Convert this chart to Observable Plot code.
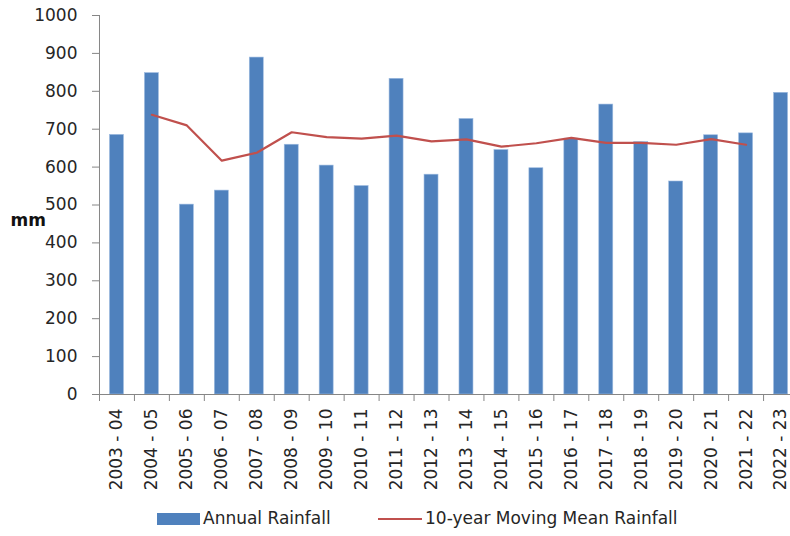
<!DOCTYPE html>
<html>
<head>
<meta charset="utf-8">
<script src="https://cdn.jsdelivr.net/npm/d3@7"></script>
<script src="https://cdn.jsdelivr.net/npm/@observablehq/plot@0.6"></script>
<style>
  body { margin: 0; background: #fff; font-family: "DejaVu Sans", sans-serif; }
  #legend { position: relative; width: 790px; height: 36px; font-size: 17px; color: #262626; }
  #legend .sw { position: absolute; }
  #legend .lb { position: absolute; top: 8px; line-height: 20px; white-space: nowrap; }
</style>
</head>
<body>
<div id="chart"></div>
<div id="legend"></div>
<script>
const seasons = ["2003 - 04","2004 - 05","2005 - 06","2006 - 07","2007 - 08","2008 - 09","2009 - 10","2010 - 11","2011 - 12","2012 - 13","2013 - 14","2014 - 15","2015 - 16","2016 - 17","2017 - 18","2018 - 19","2019 - 20","2020 - 21","2021 - 22","2022 - 23"];
const annualRainfall = [685, 848, 501, 538, 889, 659, 604, 550, 833, 580, 727, 645, 597, 675, 765, 666, 562, 684, 689, 796];
const movingMeanRainfall = [null, 738, 710, 617, 638, 692, 679, 675, 683, 668, 673, 654, 663, 677, 664, 664, 659, 674, 659, null];
const yTicks = [0, 100, 200, 300, 400, 500, 600, 700, 800, 900, 1000];
const seriesNames = ["Annual Rainfall", "10-year Moving Mean Rainfall"];
const axisLabel = "mm";

const barColor = "#4F81BD";
const lineColor = "#C0504D";
const axisColor = "#868686";
const textColor = "#262626";

const bars = seasons.map((s, i) => ({season: s, value: annualRainfall[i]}));
const means = seasons.map((s, i) => ({season: s, value: movingMeanRainfall[i]})).filter(d => d.value != null);

const step = 34.95;
const halfStep = step / 2;

const chart = Plot.plot({
  width: 790,
  height: 500,
  marginTop: 15,
  marginBottom: 106,
  marginLeft: 99,
  marginRight: 0,
  style: {fontFamily: "'DejaVu Sans', sans-serif", fontSize: "17px", color: textColor, background: "#fff"},
  x: {domain: seasons, range: [88.5, 808.5], padding: 0.6, align: 0.5, round: false},
  y: {domain: [0, 1000]},
  marks: [
    Plot.barY(bars, {x: "season", y: "value", fill: barColor, stroke: "#9dbbe0", strokeWidth: 0.6}),
    Plot.lineY(means, {x: "season", y: "value", stroke: lineColor, strokeWidth: 2.2}),
    Plot.ruleY([0], {stroke: axisColor, strokeWidth: 1}),
    Plot.ruleX([seasons[0]], {dx: -halfStep, stroke: axisColor, strokeWidth: 1}),
    Plot.axisY({ticks: yTicks, tickSize: 7, tickPadding: 15, tickFormat: d => String(d), label: null, stroke: axisColor, fill: textColor, fontSize: 17}),
    Plot.axisX({tickSize: 7, tickFormat: () => "", label: null, dx: -halfStep, stroke: axisColor}),
    Plot.axisX({tickSize: 0, tickPadding: 14, tickRotate: -90, label: null, fill: textColor, fontSize: 17}),
    Plot.text([axisLabel], {frameAnchor: "left", dx: -89, dy: 16, textAnchor: "start", fontWeight: "bold", fontSize: 17, fill: "#111"})
  ]
});
document.getElementById("chart").appendChild(chart);

const legend = document.getElementById("legend");
legend.innerHTML = `
  <div class="sw" style="left:157px;top:13px;width:43px;height:12px;background:${barColor}"></div>
  <div class="lb" style="left:203px">${seriesNames[0]}</div>
  <div class="sw" style="left:378px;top:18px;width:44px;height:2px;background:${lineColor}"></div>
  <div class="lb" style="left:425px">${seriesNames[1]}</div>`;
</script>
</body>
</html>
